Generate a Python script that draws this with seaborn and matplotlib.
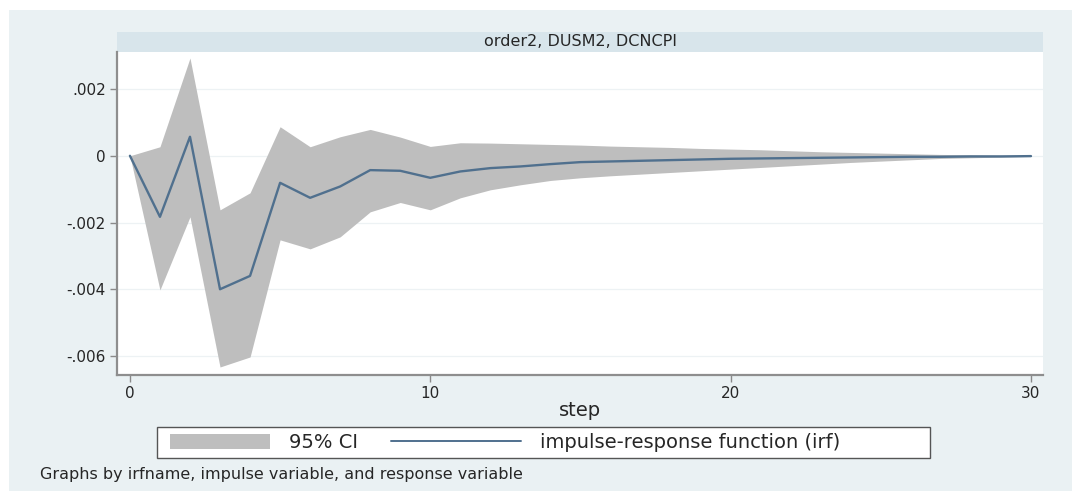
import matplotlib
matplotlib.use("Agg")
import matplotlib.pyplot as plt
import seaborn as sns
import pandas as pd
from matplotlib.patches import Rectangle, Patch
from matplotlib.lines import Line2D
from matplotlib.legend_handler import HandlerPatch

# ---- data ----
steps = list(range(31))
irf = [0.0, -0.00183, 0.00057, -0.00400, -0.00360, -0.00081, -0.00126, -0.00092,
       -0.00043, -0.00045, -0.00066, -0.00047, -0.00037, -0.00032, -0.00025, -0.00019,
       -0.00017, -0.00015, -0.00013, -0.00011, -0.00009, -0.00008, -0.00007, -0.00006,
       -0.00005, -0.00004, -0.00003, -0.00003, -0.00002, -0.00002, -0.00001]
upper = [0.0, 0.00027, 0.00293, -0.00162, -0.00111, 0.00087, 0.00027, 0.00057,
         0.00079, 0.00056, 0.00028, 0.00039, 0.00038, 0.00036, 0.00034, 0.00032,
         0.00029, 0.00027, 0.00025, 0.00022, 0.00020, 0.00018, 0.00015, 0.00012,
         0.00010, 0.00008, 0.00006, 0.00004, 0.00003, 0.00002, 0.00001]
lower = [0.0, -0.00402, -0.00183, -0.00633, -0.00603, -0.00252, -0.00279, -0.00243,
         -0.00168, -0.00140, -0.00162, -0.00126, -0.00102, -0.00087, -0.00074, -0.00066,
         -0.00060, -0.00055, -0.00050, -0.00045, -0.00040, -0.00035, -0.00030, -0.00025,
         -0.00020, -0.00016, -0.00012, -0.00008, -0.00006, -0.00004, -0.00002]

ytick_vals = [0.002, 0.0, -0.002, -0.004, -0.006]
ytick_labels = [".002", "0", "-.002", "-.004", "-.006"]
xtick_vals = [0, 10, 20, 30]
xtick_labels = ["0", "10", "20", "30"]

panel_title = "order2, DUSM2, DCNCPI"
x_label = "step"
legend_labels = ["95% CI", "impulse-response function (irf)"]
note = "Graphs by irfname, impulse variable, and response variable"

df = pd.DataFrame({"step": steps, "irf": irf, "upper": upper, "lower": lower})

# ---- style ----
sns.set_theme(style="white")
plt.rcParams["font.family"] = ["DejaVu Sans"]

W, H = 1072, 491
fig = plt.figure(figsize=(W / 100, H / 100), dpi=100, facecolor="white")

def fx(px):
    return px / W

def fy(py):
    return 1 - py / H

BG = "#EAF1F3"
STRIP = "#D8E5EB"
BAND = "#BEBEBE"
LINE = "#50708E"
TXT = "#262626"

# outer graph region
fig.patches.append(Rectangle((fx(9), 0), 1 - fx(9), fy(10), transform=fig.transFigure,
                             facecolor=BG, edgecolor="none", zorder=-10))

# strip
fig.patches.append(Rectangle((fx(117), fy(52)), fx(1043) - fx(117), fy(32) - fy(52),
                             transform=fig.transFigure, facecolor=STRIP,
                             edgecolor="none", zorder=-5))
fig.text(fx(580), fy(42), panel_title, ha="center", va="center", fontsize=11.5, color=TXT)

ax = fig.add_axes([fx(117), fy(375), fx(1043) - fx(117), fy(52) - fy(375)])
ax.set_facecolor("white")

ax.fill_between(df["step"], df["lower"], df["upper"], color=BAND, linewidth=0, zorder=2)
sns.lineplot(data=df, x="step", y="irf", ax=ax, color=LINE, linewidth=1.7, zorder=3)

ax.set_xlim(-0.43, 30.4)
ax.set_ylim(-0.00657, 0.00311)

ax.set_yticks(ytick_vals)
ax.set_yticklabels(ytick_labels)
ax.set_xticks(xtick_vals)
ax.set_xticklabels(xtick_labels)

for y in ytick_vals:
    ax.axhline(y, color="#EDF2F4", linewidth=0.9, zorder=1)

ax.tick_params(axis="both", which="both", direction="out", length=5, width=1,
               color="#8A8A8A", labelsize=11, labelcolor=TXT, pad=3,
               left=True, bottom=True)

for s in ["top", "right"]:
    ax.spines[s].set_visible(False)
for s in ["left", "bottom"]:
    ax.spines[s].set_color("#8E8E8E")
    ax.spines[s].set_linewidth(1.6)

ax.set_xlabel("")
ax.set_ylabel("")
fig.text(fx(580), fy(410), x_label, ha="center", va="center", fontsize=14, color=TXT)

# legend frame
fig.patches.append(Rectangle((fx(157), fy(458)), fx(930) - fx(157), fy(427) - fy(458),
                             transform=fig.transFigure, facecolor="white",
                             edgecolor="#555555", linewidth=1.0, zorder=1))


def short_patch(legend, orig_handle, xdescent, ydescent, width, height, fontsize):
    frac = 0.77
    return Rectangle((-xdescent + width * (1 - frac), -ydescent), width * frac, height)


handles = [Patch(facecolor=BAND, edgecolor="none"),
           Line2D([0], [0], color=LINE, linewidth=1.4)]
leg = fig.legend(handles, legend_labels, loc="center left",
                 bbox_to_anchor=(fx(140), fy(442.5)),
                 ncol=2, fontsize=14, frameon=False,
                 handler_map={Patch: HandlerPatch(patch_func=short_patch)},
                 handlelength=6.7, handleheight=0.8, handletextpad=0.95,
                 borderaxespad=0, borderpad=0.0, columnspacing=1.7)
for t in leg.get_texts():
    t.set_color(TXT)

fig.text(fx(40), fy(474), note, ha="left", va="center", fontsize=11.5, color=TXT)

fig.savefig("out.png", dpi=100, facecolor=fig.get_facecolor())
